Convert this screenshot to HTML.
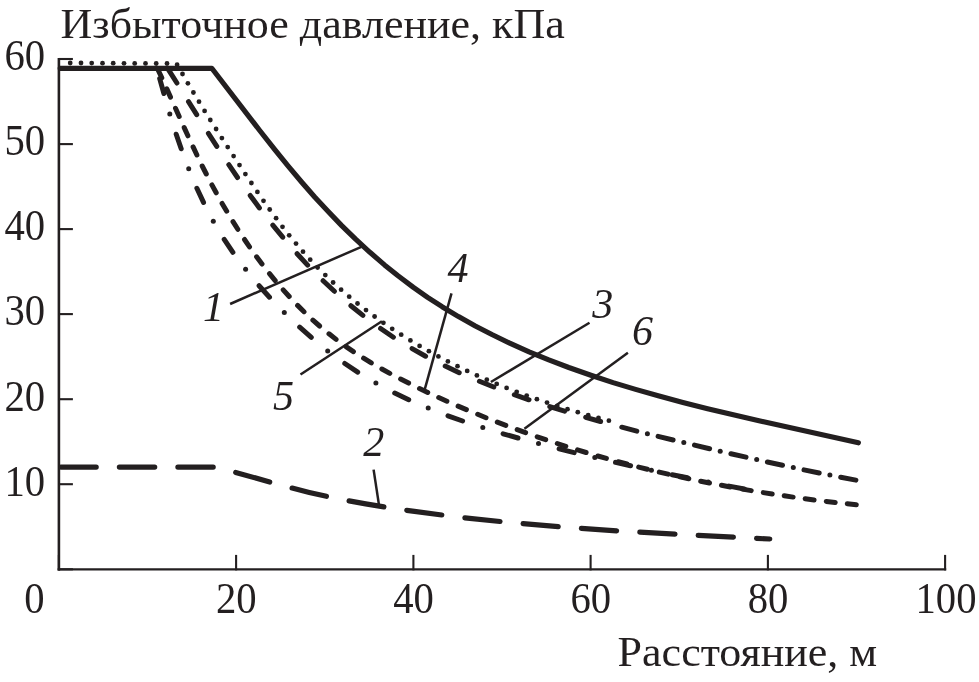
<!DOCTYPE html>
<html lang="ru"><head><meta charset="utf-8"><title>Избыточное давление</title>
<style>html,body{margin:0;padding:0;background:#fff}body{width:979px;height:682px;overflow:hidden}svg{display:block;will-change:transform}text{font-family:"Liberation Serif","Times New Roman",serif;fill:#231f20}.t{font-size:42px}.n{font-size:43.5px}.i{font-size:42px;font-style:italic}</style></head><body>
<svg width="979" height="682" viewBox="0 0 979 682">
<rect width="979" height="682" fill="#fff"/>
<g stroke="#231f20" stroke-width="2.1" fill="none">
<path stroke-width="2.6" d="M58.9 57.9 V570.4"/>
<path stroke-width="2.2" d="M57.6 569.3 H946.2"/>
<path d="M58.9 569.3 h14"/>
<path d="M58.9 484.2 h14"/>
<path d="M58.9 399.2 h14"/>
<path d="M58.9 314.1 h14"/>
<path d="M58.9 229.1 h14"/>
<path d="M58.9 144.1 h14"/>
<path d="M58.9 59.0 h14"/>
<path d="M58.9 570.4 v-15.5"/>
<path d="M236.1 570.4 v-15.5"/>
<path d="M413.4 570.4 v-15.5"/>
<path d="M590.6 570.4 v-15.5"/>
<path d="M767.9 570.4 v-15.5"/>
<path d="M945.1 570.4 v-15.5"/>
</g>
<g stroke="#231f20" fill="none" stroke-linejoin="round">
<path stroke-width="5.15" stroke-linecap="round" d="M60.2 68.3 H211.8 L211.8 68.3 L260.1 131 L274.6 149.4 L288.2 166.1 L302 182.5 L314.9 197.2 L328.2 211.6 L341.7 225.6 L355.6 239.2 L369.9 252.3 L384.5 264.9 L398 275.8 L413.4 287.4 L427.6 297.3 L442.1 306.7 L458.5 316.6 L475.3 326 L492.4 334.8 L509.7 343.1 L529.1 351.8 L548.8 359.9 L568.8 367.5 L590.9 375.3 L613.1 382.6 L635.6 389.4 L658.2 395.8 L682.9 402.4 L707.6 408.7 L759 420.7 L858.4 442.8"/>
<path stroke-width="5.2" stroke-linecap="round" d="M60.9 467.1 L96.2 467.1 M119.4 467.1 L154.7 467.1 M177.9 467.1 L213.2 467.1 M235.7 472.4 L269.7 482 M292.1 488.1 L309.3 492.4 L326.4 496.3 M349.1 500.9 L365.7 503.9 L383.9 506.9 M406.8 510.3 L441.8 515 M464.9 517.8 L500 521.5 M523.1 523.7 L558.2 526.7 M581.4 528.4 L616.6 530.8 M639.8 532.2 L675 534.2 M698.2 535.4 L733.4 537.2 M756.6 538.4 L769.8 539"/>
<g fill="#231f20" stroke="none"><circle cx="70.2" cy="63.0" r="2.4"/><circle cx="81.0" cy="63.0" r="2.4"/><circle cx="91.7" cy="63.1" r="2.4"/><circle cx="102.5" cy="63.2" r="2.4"/><circle cx="113.2" cy="63.2" r="2.4"/><circle cx="124.0" cy="63.3" r="2.4"/><circle cx="134.7" cy="63.4" r="2.4"/><circle cx="145.5" cy="63.4" r="2.4"/><circle cx="156.2" cy="63.5" r="2.4"/><circle cx="167.0" cy="63.5" r="2.4"/><circle cx="177.1" cy="64.7" r="2.4"/><circle cx="182.5" cy="74.0" r="2.4"/><circle cx="187.9" cy="83.3" r="2.4"/><circle cx="193.4" cy="92.5" r="2.4"/><circle cx="199.0" cy="101.7" r="2.4"/><circle cx="204.6" cy="110.9" r="2.4"/><circle cx="210.3" cy="120.0" r="2.4"/><circle cx="216.1" cy="129.0" r="2.4"/><circle cx="221.9" cy="138.1" r="2.4"/><circle cx="227.7" cy="147.1" r="2.4"/><circle cx="233.6" cy="156.1" r="2.4"/><circle cx="239.5" cy="165.1" r="2.4"/><circle cx="245.4" cy="174.1" r="2.4"/><circle cx="251.4" cy="183.0" r="2.4"/><circle cx="257.4" cy="191.9" r="2.4"/><circle cx="263.5" cy="200.8" r="2.4"/><circle cx="269.7" cy="209.5" r="2.4"/><circle cx="276.1" cy="218.2" r="2.4"/><circle cx="282.5" cy="226.8" r="2.4"/><circle cx="289.2" cy="235.3" r="2.4"/><circle cx="296.0" cy="243.6" r="2.4"/><circle cx="303.0" cy="251.7" r="2.4"/><circle cx="310.2" cy="259.7" r="2.4"/><circle cx="317.6" cy="267.5" r="2.4"/><circle cx="325.3" cy="275.1" r="2.4"/><circle cx="333.1" cy="282.5" r="2.4"/><circle cx="341.1" cy="289.7" r="2.4"/><circle cx="349.2" cy="296.7" r="2.4"/><circle cx="357.5" cy="303.5" r="2.4"/><circle cx="366.0" cy="310.1" r="2.4"/><circle cx="374.6" cy="316.5" r="2.4"/><circle cx="383.4" cy="322.8" r="2.4"/><circle cx="392.2" cy="328.8" r="2.4"/><circle cx="401.2" cy="334.7" r="2.4"/><circle cx="410.4" cy="340.4" r="2.4"/><circle cx="419.6" cy="345.9" r="2.4"/><circle cx="428.9" cy="351.2" r="2.4"/><circle cx="438.4" cy="356.4" r="2.4"/><circle cx="447.9" cy="361.4" r="2.4"/><circle cx="457.5" cy="366.2" r="2.4"/><circle cx="467.2" cy="370.9" r="2.4"/><circle cx="476.9" cy="375.4" r="2.4"/><circle cx="486.8" cy="379.7" r="2.4"/><circle cx="496.7" cy="383.9" r="2.4"/><circle cx="506.6" cy="387.9" r="2.4"/><circle cx="516.7" cy="391.8" r="2.4"/><circle cx="526.7" cy="395.6" r="2.4"/><circle cx="536.9" cy="399.2" r="2.4"/><circle cx="547.0" cy="402.6" r="2.4"/><circle cx="557.3" cy="406.0" r="2.4"/><circle cx="567.5" cy="409.2" r="2.4"/><circle cx="577.8" cy="412.2" r="2.4"/><circle cx="588.2" cy="415.2" r="2.4"/><circle cx="598.5" cy="418.0" r="2.4"/><circle cx="608.9" cy="420.7" r="2.4"/></g>
<path stroke-width="5" stroke-linecap="round" d="M168.6 69.9 L176.9 83 M188.5 101.6 L196.7 114.7 M208.4 133.3 L216.8 146.3 M228.8 164.7 L237.5 177.5 M250.2 195.4 L259.4 207.9 M272.8 225.2 L282.7 237.2 M297.1 253.7 L307.6 265.1 M323.1 280.7 L334.4 291.3 M350.9 305.7 L362.9 315.4 M380.6 328.5 L393.4 337.2 M412.1 348.6 L425.6 356.2 M445.2 366.1 L459.2 372.7 M479.4 381.3 L493.8 387 M514.3 394.7 L529 399.8 M549.8 406.6 L564.6 411.2 M585.7 417.3 L600.6 421.5 M621.8 427.2 L636.8 431.1 M658.1 436.4 L673.1 440 M694.5 445.1 L709.6 448.7 M730.9 453.7 L746 457.1 M767.4 462 L782.5 465.3 M804 469.9 L819.2 473 M840.7 477.2 L855.9 480.1"/>
<g fill="#231f20" stroke="none"><circle cx="647.4" cy="433.7" r="2.5"/><circle cx="683.8" cy="442.6" r="2.5"/><circle cx="720.2" cy="451.2" r="2.5"/><circle cx="756.7" cy="459.6" r="2.5"/><circle cx="793.3" cy="467.6" r="2.5"/><circle cx="829.9" cy="475.1" r="2.5"/></g>
<path stroke-width="5" stroke-linecap="round" d="M158 69.7 L161.8 77.8 M166.8 88.9 L170.5 97.1 M175.5 108.3 L179.2 116.5 M184.2 127.6 L187.9 135.8 M193.1 146.9 L196.9 155 M202.2 166 L206.3 174 M211.9 184.9 L216.2 192.8 M222.1 203.4 L226.7 211.2 M233 221.6 L237.8 229.3 M244.5 239.5 L249.5 246.9 M256.6 256.8 L262 264 M269.5 273.6 L275.2 280.6 M283.2 289.9 L289.2 296.5 M297.6 305.4 L304 311.7 M312.9 320.1 L319.6 326 M329 333.8 L336.1 339.4 M346 346.6 L353.4 351.6 M363.6 358.2 L371.3 362.9 M381.9 369 L389.8 373.4 M400.6 379.1 L408.6 383.1 M419.5 388.5 L427.7 392.4 M438.7 397.5 L446.9 401.2 M458.1 406.1 L466.4 409.6 M477.7 414.3 L486 417.7 M497.3 422.2 L505.8 425.4 M517.2 429.7 L525.6 432.7 M537.2 436.8 L545.7 439.7 M557.3 443.5 L565.8 446.3 M577.5 449.9 L586.1 452.5 M597.8 456 L606.4 458.4 M618.2 461.7 L626.9 464 M638.7 467.1 L647.4 469.2 M659.3 472.1 L668.1 474.1 M680 476.8 L688.8 478.7 M700.7 481.2 L709.5 483 M721.5 485.3 L730.3 487 M742.4 489.1 L751.2 490.6 M763.3 492.6 L772.2 494 M784.2 495.8 L793.1 497.1 M805.2 498.7 L814.1 499.9 M826.3 501.4 L835.2 502.4 M847.3 503.8 L856.3 504.7"/>
<path stroke-width="5" stroke-linecap="round" d="M159.7 78.6 L163.9 93.5 M176.2 134.2 L181.2 148.8 M196.9 188.3 L203.5 202.4 M224.2 239.4 L232.9 252.3 M259.1 285.7 L269.5 297.2 M299.7 327.1 L311.3 337.4 M344.8 363.5 L357.7 372.1 M394.7 393 L408.7 399.7 M448 415.8 L462.6 421 M503.1 433.8 L518 438 M559.1 448.9 L574.2 452.6 M615.5 462.4 L630.6 465.8 M672.2 474.7 L687.4 477.8 M729.1 486.1 L744.3 489"/>
<g fill="#231f20" stroke="none"><circle cx="169.8" cy="113.9" r="2.5"/><circle cx="188.7" cy="168.7" r="2.5"/><circle cx="213.3" cy="221.2" r="2.5"/><circle cx="245.6" cy="269.3" r="2.5"/><circle cx="284.3" cy="312.5" r="2.5"/><circle cx="327.7" cy="350.9" r="2.5"/><circle cx="375.9" cy="383.0" r="2.5"/><circle cx="428.2" cy="408.1" r="2.5"/><circle cx="482.8" cy="427.6" r="2.5"/><circle cx="538.5" cy="443.6" r="2.5"/><circle cx="594.8" cy="457.6" r="2.5"/><circle cx="651.4" cy="470.3" r="2.5"/><circle cx="708.2" cy="482.0" r="2.5"/></g>
</g>
<g stroke="#231f20" stroke-width="2.5" fill="none">
<path d="M230.1 304.0 L361.4 246.8"/>
<path d="M300.5 374.5 L381.9 321.2"/>
<path d="M451.5 293.3 L424.4 390.6"/>
<path d="M589.5 322.8 L490.9 382.0"/>
<path d="M627.9 352.8 L524.4 428.7"/>
<path d="M373.6 469.6 L379.2 506.4"/>
<path d="M420.5 389.6 l8 2.2"/>
</g>
<text class="t" x="60.5" y="37.9" textLength="504.3" lengthAdjust="spacingAndGlyphs">Избыточное давление, кПа</text>
<text class="t" x="617.6" y="665.6" textLength="259.6" lengthAdjust="spacingAndGlyphs">Расстояние, м</text>
<text class="n" text-anchor="end" x="45.2" y="495.5" textLength="40.7" lengthAdjust="spacingAndGlyphs">10</text>
<text class="n" text-anchor="end" x="45.2" y="410.5" textLength="40.7" lengthAdjust="spacingAndGlyphs">20</text>
<text class="n" text-anchor="end" x="45.2" y="325.4" textLength="40.7" lengthAdjust="spacingAndGlyphs">30</text>
<text class="n" text-anchor="end" x="45.2" y="240.4" textLength="40.7" lengthAdjust="spacingAndGlyphs">40</text>
<text class="n" text-anchor="end" x="45.2" y="155.4" textLength="40.7" lengthAdjust="spacingAndGlyphs">50</text>
<text class="n" text-anchor="end" x="45.2" y="70.3" textLength="40.7" lengthAdjust="spacingAndGlyphs">60</text>
<text class="n" text-anchor="middle" x="34.5" y="613.3" textLength="20.3" lengthAdjust="spacingAndGlyphs">0</text>
<text class="n" text-anchor="middle" x="236.3" y="613.3" textLength="40.7" lengthAdjust="spacingAndGlyphs">20</text>
<text class="n" text-anchor="middle" x="413.6" y="613.3" textLength="40.7" lengthAdjust="spacingAndGlyphs">40</text>
<text class="n" text-anchor="middle" x="590.8" y="613.3" textLength="40.7" lengthAdjust="spacingAndGlyphs">60</text>
<text class="n" text-anchor="middle" x="768.1" y="613.3" textLength="40.7" lengthAdjust="spacingAndGlyphs">80</text>
<text class="n" text-anchor="middle" x="946.0" y="613.3" textLength="61.0" lengthAdjust="spacingAndGlyphs">100</text>
<text class="i" x="203.0" y="320.5">1</text>
<text class="i" x="447.5" y="282.0">4</text>
<text class="i" x="592.2" y="317.5">3</text>
<text class="i" x="632.0" y="345.0">6</text>
<text class="i" x="273.0" y="409.8">5</text>
<text class="i" x="363.2" y="455.7">2</text>
</svg></body></html>
